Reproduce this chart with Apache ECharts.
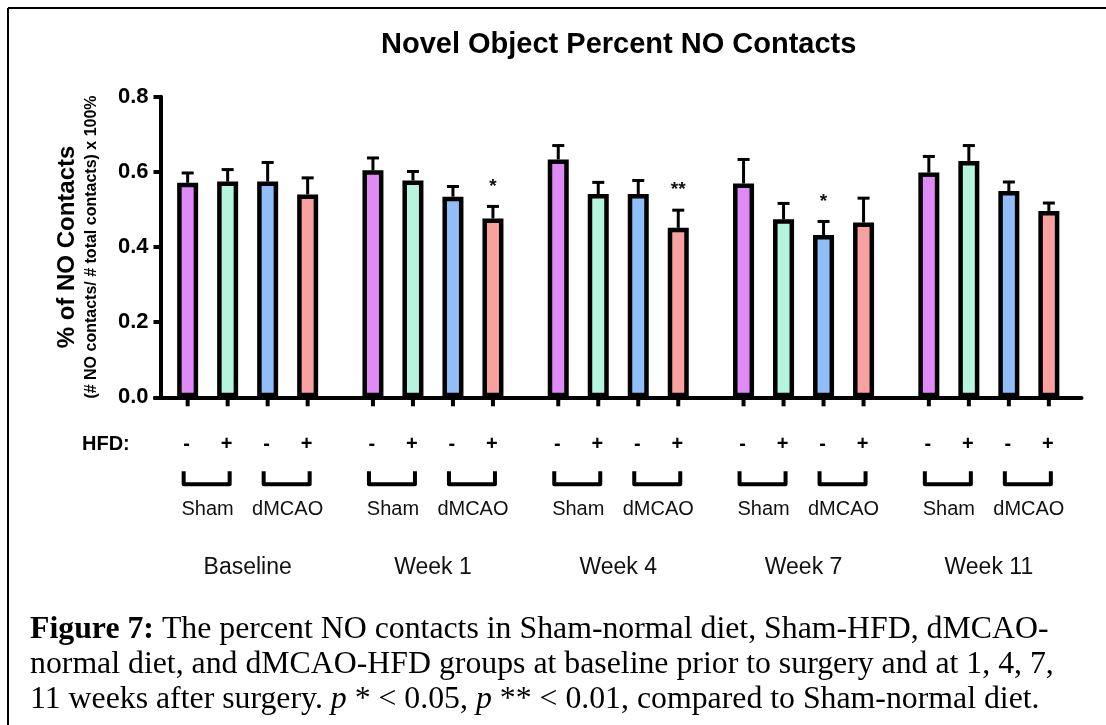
<!DOCTYPE html>
<html>
<head>
<meta charset="utf-8">
<script src="https://cdn.jsdelivr.net/npm/echarts@6/dist/echarts.min.js"></script>
<style>
  html, body { margin: 0; padding: 0; background: #fff; }
  #chart { width: 1106px; height: 725px; }
</style>
</head>
<body>
<div id="chart"></div>
<script>
// ---------------- DATA ----------------
const groups = ['Baseline', 'Week 1', 'Week 4', 'Week 7', 'Week 11'];
const seriesNames = ['Sham-normal diet', 'Sham-HFD', 'dMCAO-normal diet', 'dMCAO-HFD'];
const shamND   = [0.571, 0.604, 0.633, 0.569, 0.598];
const shamHFD  = [0.574, 0.577, 0.541, 0.474, 0.629];
const dmcaoND  = [0.574, 0.534, 0.541, 0.432, 0.549];
const dmcaoHFD = [0.540, 0.476, 0.451, 0.465, 0.496];
const semShamND   = [0.026, 0.033, 0.037, 0.064, 0.043];
const semShamHFD  = [0.032, 0.024, 0.031, 0.042, 0.041];
const semDmcaoND  = [0.051, 0.027, 0.036, 0.036, 0.024];
const semDmcaoHFD = [0.044, 0.032, 0.047, 0.065, 0.021];
const sigShamND   = ['', '', '', '', ''];
const sigShamHFD  = ['', '', '', '', ''];
const sigDmcaoND  = ['', '', '', '*', ''];
const sigDmcaoHFD = ['', '*', '**', '', ''];
const hfdMarks = ['-', '+', '-', '+'];
const surgeryLabels = ['Sham', 'dMCAO'];
const yTicks = [0, 0.2, 0.4, 0.6, 0.8];
const colors = ['#DF8AF7', '#B5F5DD', '#90BEF8', '#F9A0A0'];
const titleText = 'Novel Object Percent NO Contacts';
const yNameMain = '% of NO Contacts';
const yNameSub = '(# NO contacts/ # total contacts) x 100%';

// ---------------- BUILD ----------------
const means = [shamND, shamHFD, dmcaoND, dmcaoHFD];
const sems = [semShamND, semShamHFD, semDmcaoND, semDmcaoHFD];
const sigs = [sigShamND, sigShamHFD, sigDmcaoND, sigDmcaoHFD];

const BAR_W = 21;
const SPACING = 40;            // distance between neighbouring bar centres
const SANS = "'Liberation Sans', Arial, sans-serif";
const SERIF = "'Liberation Serif', 'Times New Roman', serif";

const annotData = [];
for (let g = 0; g < groups.length; g++) {
  for (let s = 0; s < 4; s++) {
    annotData.push([g, s, means[s][g], sems[s][g]]);
  }
}

function renderAnnot(params, api) {
  const g = api.value(0), s = api.value(1), m = api.value(2), e = api.value(3);
  const c = api.coord([g, m]);
  const x = c[0] + (s - 1.5) * SPACING;
  const yTop = c[1];
  const yCap = api.coord([g, m + e])[1];
  const y0 = api.coord([g, 0])[1];
  const black = '#000';
  const ch = [
    { type: 'line', shape: { x1: x, y1: yTop, x2: x, y2: yCap }, style: { stroke: black, lineWidth: 3 } },
    { type: 'line', shape: { x1: x - 6, y1: yCap, x2: x + 6, y2: yCap }, style: { stroke: black, lineWidth: 3 } },
    { type: 'line', shape: { x1: x, y1: y0, x2: x, y2: y0 + 9 }, style: { stroke: black, lineWidth: 4 } },
    { type: 'text', x: x - 1, y: y0 + 47, style: { text: hfdMarks[s], fill: black, font: 'bold 20px ' + SANS, textAlign: 'center', textVerticalAlign: 'middle' } }
  ];
  const sig = sigs[s][g];
  if (sig) {
    ch.push({ type: 'text', x: x, y: yCap - 20, style: { text: sig, fill: '#111', font: 'bold 19px ' + SANS, textAlign: 'center', textVerticalAlign: 'middle' } });
  }
  if (s % 2 === 0) {
    const xa = x - 4, xb = x + SPACING + 2;
    ch.push({ type: 'polyline', shape: { points: [[xa, y0 + 74], [xa, y0 + 87], [xb, y0 + 87], [xb, y0 + 74]] },
      style: { stroke: black, lineWidth: 4, fill: null, lineJoin: 'round' } });
    ch.push({ type: 'text', x: x + SPACING / 2, y: y0 + 112, style: { text: surgeryLabels[s / 2], fill: '#111', font: '20px ' + SANS, textAlign: 'center', textVerticalAlign: 'middle' } });
  }
  return { type: 'group', children: ch };
}

const barSeries = seriesNames.map((name, i) => ({
  name: name,
  type: 'bar',
  data: means[i],
  barWidth: BAR_W,
  barGap: ((SPACING - BAR_W) / BAR_W * 100).toFixed(1) + '%',
  itemStyle: { color: colors[i], borderColor: '#000', borderWidth: 4.5 },
  z: 2
}));

const option = {
  animation: false,
  backgroundColor: '#fff',
  title: [
    {
      text: titleText,
      left: 381,
      top: 30,
      padding: 0,
      textStyle: { fontFamily: SANS, fontWeight: 'bold', fontSize: 29, color: '#000', lineHeight: 30 }
    },
    {
      text: '{b|Figure 7:} The percent NO contacts in Sham-normal diet, Sham-HFD, dMCAO-\n' +
            'normal diet, and dMCAO-HFD groups at baseline prior to surgery and at 1, 4, 7,\n' +
            '11 weeks after surgery. {i|p} * < 0.05, {i|p} ** < 0.01, compared to Sham-normal diet.',
      left: 30,
      top: 612,
      padding: 0,
      textStyle: {
        fontFamily: SERIF, fontWeight: 'normal', fontSize: 31.8, lineHeight: 35, color: '#000',
        rich: {
          b: { fontFamily: SERIF, fontWeight: 'bold', fontSize: 31.8, lineHeight: 35, color: '#000' },
          i: { fontFamily: SERIF, fontStyle: 'italic', fontSize: 31.8, lineHeight: 35, color: '#000' }
        }
      }
    }
  ],
  graphic: [
    { type: 'line', shape: { x1: 8, y1: 8, x2: 1106, y2: 8 }, style: { stroke: '#000', lineWidth: 2 } },
    { type: 'line', shape: { x1: 8, y1: 8, x2: 8, y2: 725 }, style: { stroke: '#000', lineWidth: 2 } },
    { type: 'text', left: 82, top: 434, style: { text: 'HFD:', fill: '#000', font: 'bold 20px ' + SANS } }
  ],
  grid: { left: 155, right: 24.5, top: 96.7, height: 300.6, containLabel: false },
  xAxis: {
    type: 'category',
    data: groups,
    axisLine: { lineStyle: { color: '#000', width: 4 } },
    axisTick: { show: false },
    axisLabel: { color: '#111', fontFamily: SANS, fontSize: 23, margin: 159 },
    splitLine: { show: false }
  },
  yAxis: {
    type: 'value',
    min: 0, max: 0.8, interval: 0.2,
    offset: -5.5,
    axisLine: { show: true, lineStyle: { color: '#000', width: 4 } },
    axisTick: { show: true, length: 7, lineStyle: { color: '#000', width: 4 } },
    axisLabel: {
      color: '#000', fontFamily: SANS, fontWeight: 'bold', fontSize: 22, margin: 12,
      formatter: v => { const t = yTicks.find(k => Math.abs(k - v) < 1e-9); return (t !== undefined ? t : v).toFixed(1); }
    },
    splitLine: { show: false },
    name: '{a|' + yNameMain + '}\n{b|' + yNameSub + '}',
    nameLocation: 'middle',
    nameGap: 58,
    nameTextStyle: {
      color: '#000',
      rich: {
        a: { fontFamily: SANS, fontWeight: 'bold', fontSize: 24, lineHeight: 26, color: '#000' },
        b: { fontFamily: SANS, fontWeight: 'bold', fontSize: 16, lineHeight: 22, color: '#000' }
      }
    }
  },
  series: barSeries.concat([{
    type: 'custom',
    name: 'annotations',
    renderItem: renderAnnot,
    data: annotData,
    encode: { x: 0, y: 2 },
    clip: false,
    z: 3,
    silent: true
  }])
};

const chart = echarts.init(document.getElementById('chart'), null, { renderer: 'canvas' });
chart.setOption(option);
</script>
</body>
</html>
